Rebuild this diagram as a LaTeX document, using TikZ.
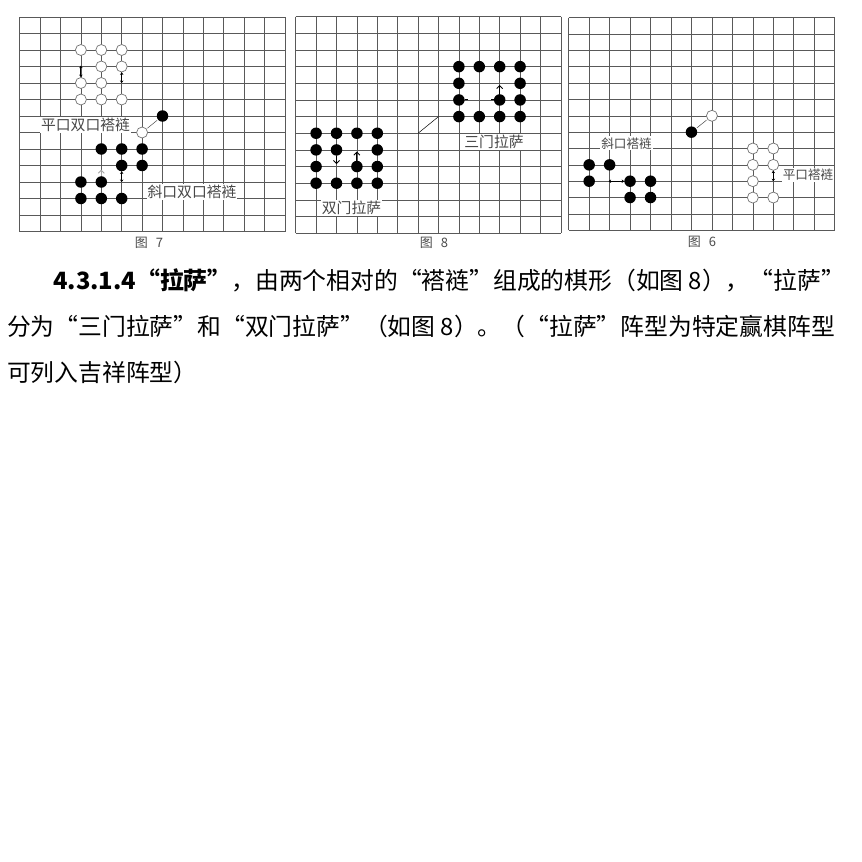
\documentclass[tikz,border=0pt]{standalone}
\usepackage{fontspec}
\newfontfamily\cjk{Noto Sans CJK SC}
\usetikzlibrary{arrows.meta}
\tikzset{
  gridl/.style={draw=black!65, line width=0.6pt},
  bstone/.style={circle, fill=black, inner sep=0pt, minimum size=11.5pt},
  wstone/.style={circle, draw=black!55, fill=white, line width=0.7pt, inner sep=0pt, minimum size=11pt},
  dbl/.style={{Stealth[length=2.5pt,width=3.5pt]}-{Stealth[length=2.5pt,width=3.5pt]}, line width=0.9pt},
  chev/.style={-{Straight Barb[length=3pt,width=6pt]}, line width=0.9pt},
  dashseg/.style={line width=1pt},
  link/.style={draw=black!70, line width=0.5pt, shorten >=1pt, shorten <=1pt},
  lbl/.style={font=\cjk\fontsize{14.8}{14.8}\selectfont, text=black!72, fill=white, inner sep=1pt},
  lbls/.style={lbl, font=\cjk\fontsize{12.6}{12.6}\selectfont},
  captxt/.style={font=\cjk\fontsize{13}{13}\selectfont, text=black!70},
  para/.style={font=\cjk\fontsize{23.8}{23.8}\selectfont, anchor=base west, inner sep=0pt},
}
\newcommand\mygrid{\foreach \i in {0,...,13} {\draw[gridl] (\i,0) -- (\i,13); \draw[gridl] (0,\i) -- (13,\i);}}
\begin{document}
\begin{tikzpicture}[x=1pt,y=-1pt]
\fill[white] (0,0) rectangle (862,862);
\useasboundingbox (0,0) rectangle (862,862);
% ---------- Fig 7 ----------
\begin{scope}[shift={(19.7,17)}, x=20.4pt, y=-16.5pt]
  \mygrid
  \foreach \c/\r [count=\k] in {3/2,4/2,5/2,4/3,5/3,3/4,4/4,3/5,4/5,5/5}
    \node[wstone] (f7w\k) at (\c,\r) {};
  \foreach \c/\r [count=\k] in {4/8,5/8,6/8,5/9,6/9,3/10,4/10,3/11,4/11,5/11}
    \node[bstone] (f7b\k) at (\c,\r) {};
  \node[wstone] (f7dw) at (6,7) {};
  \node[bstone] (f7db) at (7,6) {};
  \draw[link] (f7dw) -- (f7db);
  \coordinate (f7a) at (3,2.95);
  \coordinate (f7c) at (5,4);
  \coordinate (f7e) at (5,10);
  \coordinate (f7g) at (4,9.25);
  \draw[dbl] (f7a) -- (f7w6);
  \draw[dbl] (f7w5) -- (f7c);
  \draw[dbl] (f7b4) -- (f7e);
  \draw[chev, draw=black!35] (f7b7) -- (f7g);
\end{scope}
\node[lbl] (t7a) at (85.5,125) {平口双口褡裢};
\node[lbl] (t7b) at (192,192) {斜口双口褡裢};
\node[captxt] (c7) at (149,242.5) {图\hspace{5pt} 7};
% ---------- Fig 8 ----------
\begin{scope}[shift={(295.7,16.7)}, x=20.4pt, y=-16.65pt]
  \mygrid
  \foreach \c/\r [count=\k] in {1/7,2/7,3/7,4/7,1/8,2/8,4/8,1/9,3/9,4/9,1/10,2/10,3/10,4/10}
    \node[bstone] (f8s\k) at (\c,\r) {};
  \foreach \c/\r [count=\k] in {8/3,9/3,10/3,11/3,8/4,11/4,8/5,10/5,11/5,8/6,9/6,10/6,11/6}
    \node[bstone] (f8t\k) at (\c,\r) {};
  \coordinate (f8a) at (2,8.85);
  \coordinate (f8b) at (3,8.1);
  \coordinate (f8c) at (10,4.1);
  \coordinate (f8d) at (8.45,5);
  \coordinate (f8e) at (9.57,5);
  \draw[chev] (f8s6) -- (f8a);
  \draw[chev] (f8s9) -- (f8b);
  \draw[chev] (f8t8) -- (f8c);
  \draw[dashseg] (f8t7) -- (f8d);
  \draw[dashseg] (f8t8) -- (f8e);
  \coordinate (f8l1) at (6,7);
  \coordinate (f8l2) at (7,6);
  \draw[line width=0.5pt] (f8l1) -- (f8l2);
\end{scope}
\node[lbl] (t8a) at (494,142) {三门拉萨};
\node[lbl] (t8b) at (351.5,208) {双门拉萨};
\node[captxt] (c8) at (434,243) {图\hspace{5pt} 8};
% ---------- Fig 6 ----------
\begin{scope}[shift={(568.7,17.7)}, x=20.46pt, y=-16.35pt]
  \mygrid
  \foreach \c/\r [count=\k] in {1/9,2/9,1/10,3/10,4/10,3/11,4/11}
    \node[bstone] (f6b\k) at (\c,\r) {};
  \foreach \c/\r [count=\k] in {9/8,10/8,9/9,10/9,9/10,9/11,10/11}
    \node[wstone] (f6w\k) at (\c,\r) {};
  \node[bstone] (f6db) at (6,7) {};
  \node[wstone] (f6dw) at (7,6) {};
  \draw[link] (f6db) -- (f6dw);
  \coordinate (f6a) at (1.95,10);
  \coordinate (f6c) at (10,10);
  \draw[dbl] (f6a) -- (f6b4);
  \draw[dbl] (f6w4) -- (f6c);
\end{scope}
\node[lbls] (t6a) at (626.5,143.3) {斜口褡裢};
\node[lbls] (t6b) at (808,175) {平口褡裢};
\node[captxt] (c6) at (702,241.5) {图\hspace{5pt} 6};
% ---------- Paragraph ----------
\node[para] (p1) at (53,289) {{\bfseries 4.3.1.4“拉萨”}，由两个相对的“褡裢”组成的棋形（如图 8），“拉萨”};
\node[para] (p2) at (7,335) {分为“三门拉萨”和“双门拉萨”（如图 8）。（“拉萨”阵型为特定赢棋阵型};
\node[para] (p3) at (7,381) {可列入吉祥阵型）};
\end{tikzpicture}
\end{document}
